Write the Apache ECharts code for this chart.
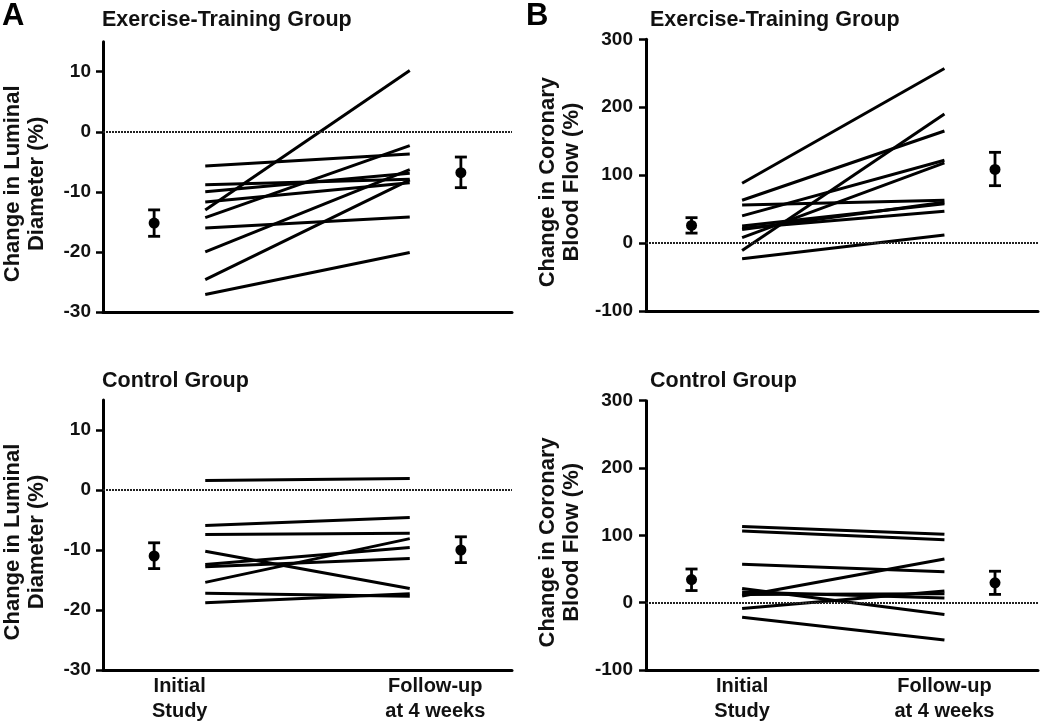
<!DOCTYPE html>
<html>
<head>
<meta charset="utf-8">
<script src="https://cdn.jsdelivr.net/npm/echarts@6/dist/echarts.min.js"></script>
<style>
  html, body { margin: 0; padding: 0; background: #fff; }
  #chart { width: 1050px; height: 724px; }
</style>
</head>
<body>
<div id="chart"></div>
<script>
// tick labels and visit positions
var luminalTicks = [-30, -20, -10, 0, 10];
var flowTicks = [-100, 0, 100, 200, 300];
var visitLabels = ['Initial\nStudy', 'Follow-up\nat 4 weeks'];
var visitLabelPosA = [1.5, 6.5];
var visitLabelPosB = [2, 6];
var subjectX = [2, 6];   // initial study, follow-up
var meanX = [1, 7];      // group mean before / after

// A - exercise-training group, change in luminal diameter (%)
var exLumInitial = [-5.7, -8.8, -10.0, -11.7, -13.0, -14.3, -16.0, -20.0, -24.6, -27.1];
var exLumFollow  = [-3.7, -7.9, -6.9, -8.5, 10.2, -2.3, -14.2, -6.3, -8.0, -20.1];
var exLumMean = [-15.2, -6.8];
var exLumLow  = [-17.4, -9.3];
var exLumHigh = [-13.0, -4.2];

// A - control group
var ctLumInitial = [1.6, -5.9, -7.4, -10.2, -15.4, -12.4, -12.8, -17.2, -18.8];
var ctLumFollow  = [1.9, -4.6, -7.2, -16.4, -8.1, -9.6, -11.4, -17.7, -17.3];
var ctLumMean = [-11.0, -10.0];
var ctLumLow  = [-13.1, -12.1];
var ctLumHigh = [-8.8, -7.8];

// B - exercise-training group, change in coronary blood flow (%)
var exFlowInitial = [88, 63, 56, 40, 25, 22, 20, 8, -11, -23];
var exFlowFollow  = [257, 165, 63, 122, 58, 47, 60, 118, 190, 12];
var exFlowMean = [26, 108.5];
var exFlowLow  = [14.7, 84.5];
var exFlowHigh = [37.4, 133.6];

// B - control group
var ctFlowInitial = [113, 106.5, 57, 21, 16, 12, 10, -8.8, -21.6];
var ctFlowFollow  = [101.6, 93.3, 46, -17.7, 7, 13.3, 64.8, 17.2, -55.5];
var ctFlowMean = [34.3, 29.5];
var ctFlowLow  = [18, 12.3];
var ctFlowHigh = [50, 46.7];

var font = "'Liberation Sans', Arial, Helvetica, sans-serif";
var ink = '#111';

var chart = echarts.init(document.getElementById('chart'), null, { renderer: 'canvas' });

function errorBar(params, api) {
    var x = api.value(0);
    var mid = api.coord([x, api.value(1)]);
    var lo = api.coord([x, api.value(2)]);
    var hi = api.coord([x, api.value(3)]);
    var cap = 6;
    var st = { stroke: '#000', lineWidth: 2.8 };
    return {
        type: 'group',
        children: [
            { type: 'line', shape: { x1: lo[0], y1: lo[1], x2: hi[0], y2: hi[1] }, style: st },
            { type: 'line', shape: { x1: lo[0] - cap, y1: lo[1], x2: lo[0] + cap, y2: lo[1] }, style: st },
            { type: 'line', shape: { x1: hi[0] - cap, y1: hi[1], x2: hi[0] + cap, y2: hi[1] }, style: st },
            { type: 'circle', shape: { cx: mid[0], cy: mid[1], r: 5.5 }, style: { fill: '#000' } }
        ]
    };
}

var series = [];
function addPanel(idx, initial, follow, mean, low, high) {
    for (var i = 0; i < initial.length; i++) {
        series.push({
            type: 'line',
            xAxisIndex: idx,
            yAxisIndex: idx,
            data: [[subjectX[0], initial[i]], [subjectX[1], follow[i]]],
            symbol: 'none',
            silent: true,
            lineStyle: { color: '#000', width: 3 },
            z: 3
        });
    }
    series.push({
        type: 'custom',
        xAxisIndex: idx,
        yAxisIndex: idx,
        renderItem: errorBar,
        data: [
            [meanX[0], mean[0], low[0], high[0]],
            [meanX[1], mean[1], low[1], high[1]]
        ],
        markLine: {
            silent: true,
            symbol: 'none',
            label: { show: false },
            lineStyle: { color: '#222', width: 1.8, type: [2, 1] },
            data: [{ yAxis: 0 }]
        },
        z: 4
    });
}
addPanel(0, exLumInitial, exLumFollow, exLumMean, exLumLow, exLumHigh);
addPanel(1, exFlowInitial, exFlowFollow, exFlowMean, exFlowLow, exFlowHigh);
addPanel(2, ctLumInitial, ctLumFollow, ctLumMean, ctLumLow, ctLumHigh);
addPanel(3, ctFlowInitial, ctFlowFollow, ctFlowMean, ctFlowLow, ctFlowHigh);

function xAxisFor(grid, isB, showLabels) {
    var pos = isB ? visitLabelPosB : visitLabelPosA;
    return {
        type: 'value',
        gridIndex: grid,
        min: isB ? 0.1 : 0,
        max: isB ? 7.85 : 8,
        position: 'bottom',
        splitLine: { show: false },
        axisTick: { show: false },
        axisLine: { onZero: false, lineStyle: { color: '#000', width: 3 } },
        axisLabel: {
            show: showLabels,
            customValues: pos,
            formatter: function (v) {
                return Math.abs(v - pos[0]) < 0.01 ? visitLabels[0] : visitLabels[1];
            },
            margin: 4,
            color: ink,
            fontFamily: font,
            fontWeight: 'bold',
            fontSize: 20,
            lineHeight: 25
        }
    };
}

function yAxisFor(grid, isB) {
    return {
        type: 'value',
        gridIndex: grid,
        min: isB ? -100 : -30,
        max: isB ? 300 : 15,
        name: isB ? 'Change in Coronary\nBlood Flow (%)' : 'Change in Luminal\nDiameter (%)',
        nameLocation: 'middle',
        nameRotate: 90,
        nameGap: isB ? 62 : 54,
        nameTextStyle: {
            color: ink, fontFamily: font, fontWeight: 'bold', fontSize: 22, lineHeight: 24,
            padding: [0, 14, 0, 0]
        },
        splitLine: { show: false },
        axisLine: { show: true, onZero: false, lineStyle: { color: '#000', width: 3 } },
        axisTick: {
            show: true, length: 7, customValues: isB ? flowTicks : luminalTicks,
            lineStyle: { color: '#000', width: 2.5 }
        },
        axisLabel: {
            customValues: isB ? flowTicks : luminalTicks,
            margin: isB ? 13 : 12,
            color: ink, fontFamily: font, fontWeight: 'bold', fontSize: 19
        }
    };
}

var titleStyle = { color: ink, fontFamily: font, fontWeight: 'bold', fontSize: 21.5 };
var letterStyle = { color: '#000', fontFamily: font, fontWeight: 'bold', fontSize: 31 };

var option = {
    animation: false,
    backgroundColor: '#fff',
    title: [
        { text: 'A', left: 2, top: 1, padding: 0, textStyle: letterStyle },
        { text: 'B', left: 526, top: 1, padding: 0, textStyle: letterStyle },
        { text: 'Exercise-Training Group', left: 102, top: 9, padding: 0, textStyle: titleStyle },
        { text: 'Exercise-Training Group', left: 650, top: 9, padding: 0, textStyle: titleStyle },
        { text: 'Control Group', left: 102, top: 370, padding: 0, textStyle: titleStyle },
        { text: 'Control Group', left: 650, top: 370, padding: 0, textStyle: titleStyle }
    ],
    grid: [
        { left: 102, top: 41.7, width: 410, height: 270.3 },
        { left: 646, top: 39.3, width: 392, height: 271.7 },
        { left: 102, top: 400, width: 410, height: 270.7 },
        { left: 646, top: 400.7, width: 392, height: 271 }
    ],
    xAxis: [
        xAxisFor(0, false, false),
        xAxisFor(1, true, false),
        xAxisFor(2, false, true),
        xAxisFor(3, true, true)
    ],
    yAxis: [
        yAxisFor(0, false),
        yAxisFor(1, true),
        yAxisFor(2, false),
        yAxisFor(3, true)
    ],
    series: series
};
chart.setOption(option);
</script>
</body>
</html>
